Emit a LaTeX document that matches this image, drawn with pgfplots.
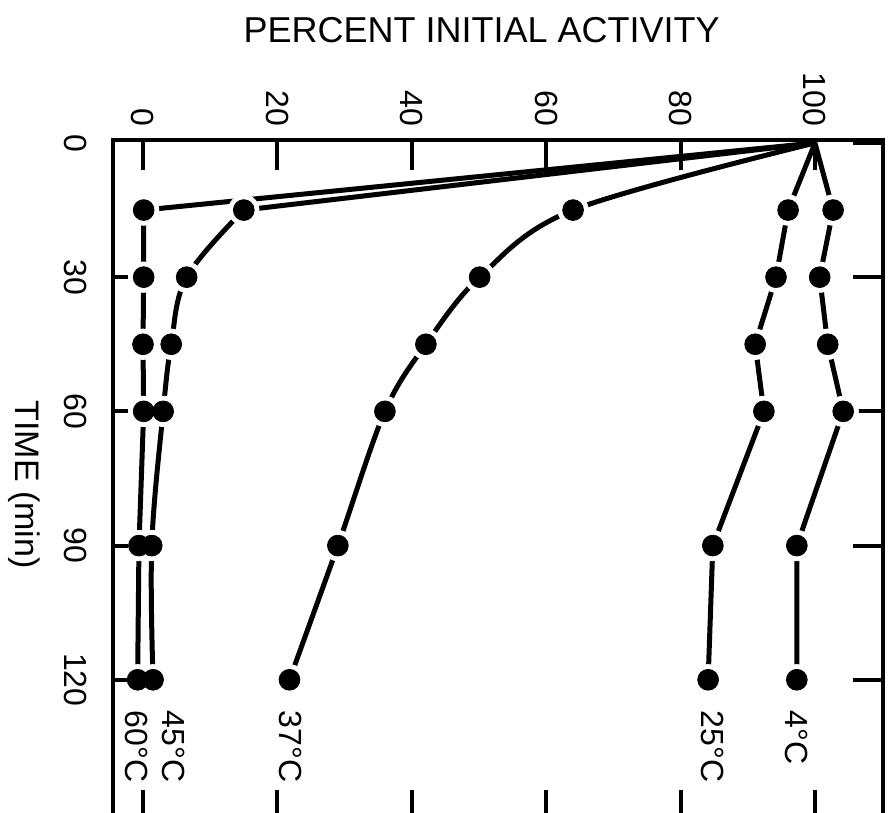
\documentclass[border=0pt]{standalone}
\usepackage{fontspec}
\setmainfont{Liberation Sans}
\usepackage{pgfplots}
\pgfplotsset{compat=1.18}
\usepackage{pgfplotstable}

% t = time (min), a = percent of initial activity
\pgfplotstableread{
t a
0 100
15 102.7
30 100.7
45 101.9
60 104.2
90 97.3
120 97.3
}\tblfour
\pgfplotstableread{
t a
0 100
15 96.0
30 94.2
45 91.1
60 92.4
90 84.8
120 84.1
}\tbltwentyfive
\pgfplotstableread{
t a
0 100
15 64.0
30 50.1
45 42.1
60 36.0
90 29.0
120 21.8
}\tblthirtyseven
\pgfplotstableread{
t a
0 100
15 15.0
30 6.5
45 4.2
60 3.0
90 1.3
120 1.5
}\tblfortyfive
\pgfplotstableread{
t a
0 100
15 0.1
30 0.1
45 0.0
60 0.1
90 -0.6
120 -0.8
}\tblsixty

\begin{document}
\begin{tikzpicture}
\pgfplotsset{
  base/.style={scale only axis, width=192.5pt, height=170pt,
    xmin=-4.46, xmax=110.1, ymin=-0.67, ymax=151.3, y dir=reverse, clip=false},
  curve/.style={black, line width=1.25pt},
  % white discs that open a gap in the lines around each dot
  gapmark/.style={only marks, mark=*, mark size=3.8pt,
    mark options={fill=white, draw=white, line width=0.2pt},
    skip coords between index={0}{1}},
  dotmark/.style={only marks, mark=*, mark size=2.6pt,
    mark options={fill=black, draw=black, line width=0.2pt},
    skip coords between index={0}{1}},
}
\begin{axis}[base,
  axis line style={line width=1pt},
  xtick={0,20,...,100}, ytick={0,30,...,120},
  xtick pos=both, xticklabel pos=right,
  ytick pos=right, yticklabel pos=left,
  tick align=inside, major tick length=7.5pt,
  tick style={line width=1pt, black},
  ticklabel style={font=\fontsize{8}{9.6}\selectfont},
  /pgf/number format/assume math mode=true,
  xticklabel style={rotate=-90, anchor=east},
  yticklabel style={rotate=-90, anchor=north},
  yticklabel shift=3pt,
]
% lines
\addplot[curve] table[x=a, y=t] {\tblfour};
\addplot[curve] table[x=a, y=t] {\tbltwentyfive};
\addplot[curve, smooth, tension=0.55] table[x=a, y=t] {\tblthirtyseven};
\addplot[curve, skip coords between index={2}{7}] table[x=a, y=t] {\tblfortyfive};
\addplot[curve, smooth, tension=0.6, skip coords between index={0}{1}] table[x=a, y=t] {\tblfortyfive};
\addplot[curve] table[x=a, y=t] {\tblsixty};
% gaps
\addplot[gapmark] table[x=a, y=t] {\tblfour};
\addplot[gapmark] table[x=a, y=t] {\tbltwentyfive};
\addplot[gapmark] table[x=a, y=t] {\tblthirtyseven};
\addplot[gapmark] table[x=a, y=t] {\tblfortyfive};
\addplot[gapmark] table[x=a, y=t] {\tblsixty};
% dots
\addplot[dotmark] table[x=a, y=t] {\tblfour};
\addplot[dotmark] table[x=a, y=t] {\tbltwentyfive};
\addplot[dotmark] table[x=a, y=t] {\tblthirtyseven};
\addplot[dotmark] table[x=a, y=t] {\tblfortyfive};
\addplot[dotmark] table[x=a, y=t] {\tblsixty};
% series labels
\begin{scope}[every node/.style={rotate=-90, anchor=west, font=\fontsize{8}{9.6}\selectfont}]
\node at (axis cs:97.3,123.8) {4°C};
\node at (axis cs:84.7,123.8) {25°C};
\node at (axis cs:21.9,123.8) {37°C};
\node at (axis cs:4.6,123.8) {45°C};
\node at (axis cs:-0.9,123.8) {60°C};
\end{scope}
\node[font=\fontsize{9}{10.8}\selectfont] at (axis cs:50.4,-25.3) {PERCENT INITIAL ACTIVITY};
\node[rotate=-90, font=\fontsize{8.5}{10}\selectfont] at (axis cs:-17.7,76.4) {TIME (min)};
\coordinate (bbA) at (axis cs:-21.28,-31.96);
\coordinate (bbB) at (axis cs:111.76,149.7);
\end{axis}
% short ticks on the left side
\begin{axis}[base, hide x axis, axis y line*=left, axis line style={draw=none},
  ytick={30,60,90,120}, yticklabels={}, tick align=inside,
  major tick length=3.75pt, tick style={line width=1pt, black}]
\addplot[draw=none] coordinates {(0,0)};
\end{axis}
\pgfresetboundingbox
\path[use as bounding box] (bbA) rectangle (bbB);
\end{tikzpicture}
\end{document}
